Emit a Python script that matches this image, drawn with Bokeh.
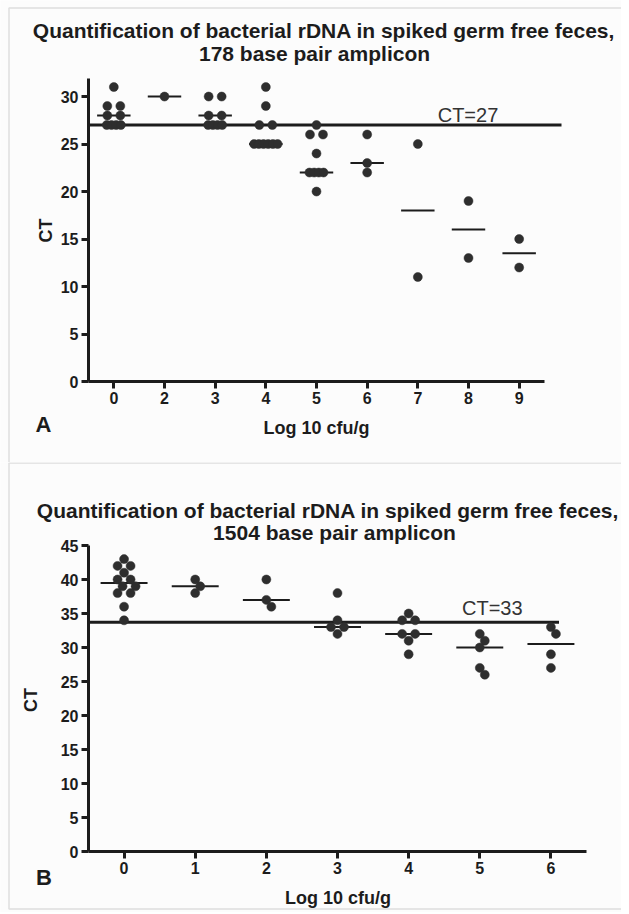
import numpy as np
from bokeh.plotting import figure
from bokeh.models import FixedTicker, Label, BoxAnnotation, Range1d
from bokeh.layouts import column
from bokeh.embed import file_html
from bokeh.resources import INLINE

# ---------------- Panel A data ----------------
a_title = ["Quantification of bacterial rDNA in spiked germ free feces,",
           "178 base pair amplicon"]
a_categories = ["0", "2", "3", "4", "5", "6", "7", "8", "9"]
a_point_group = ["0", "0", "0", "0", "0", "0", "0", "0", "0",
                 "2",
                 "3", "3", "3", "3", "3", "3", "3", "3",
                 "4", "4", "4", "4", "4", "4", "4", "4", "4", "4",
                 "5", "5", "5", "5", "5", "5", "5", "5", "5",
                 "6", "6", "6",
                 "7", "7",
                 "8", "8",
                 "9", "9"]
a_point_ct = [31, 29, 29, 28, 28, 27, 27, 27, 27,
              30,
              30, 30, 28, 28, 27, 27, 27, 27,
              31, 29, 27, 27, 25, 25, 25, 25, 25, 25,
              27, 26, 26, 24, 22, 22, 22, 22, 20,
              26, 23, 22,
              25, 11,
              19, 13,
              15, 12]
a_medians = [28, 30, 28, 25, 22, 23, 18, 16, 13.5]
a_threshold = 27
a_threshold_text = "CT=27"
a_y_ticks = [0, 5, 10, 15, 20, 25, 30]

# ---------------- Panel B data ----------------
b_title = ["Quantification of bacterial rDNA in spiked germ free feces,",
           "1504 base pair amplicon"]
b_categories = ["0", "1", "2", "3", "4", "5", "6"]
b_point_group = ["0", "0", "0", "0", "0", "0", "0", "0", "0", "0", "0", "0",
                 "1", "1", "1",
                 "2", "2", "2",
                 "3", "3", "3", "3", "3",
                 "4", "4", "4", "4", "4", "4", "4",
                 "5", "5", "5", "5", "5",
                 "6", "6", "6", "6"]
b_point_ct = [43, 42, 42, 41, 40, 40, 39, 39, 38, 38, 36, 34,
              40, 39, 38,
              40, 37, 36,
              38, 34, 33, 33, 32,
              35, 34, 34, 32, 32, 31, 29,
              32, 31, 30, 27, 26,
              33, 32, 29, 27]
b_medians = [39.5, 39, 37, 33, 32, 30, 30.5]
b_threshold = 33.7
b_threshold_text = "CT=33"
b_y_ticks = [0, 5, 10, 15, 20, 25, 30, 35, 40, 45]

x_axis_title = "Log 10 cfu/g"
y_axis_title = "CT"

FONT = "Liberation Sans"
INK = "#1c1c1c"
DOT = "#2e2e2e"
BG = "#fcfcfc"
FRAME = "#9c9c9c"
W = 621


def swarm_x(groups, cts, cats, px_x, px_y, dot_px=8.0):
    """Deterministic beeswarm: same-value rows centred, rows shifted to avoid overlap."""
    groups = np.asarray(groups)
    vals = np.asarray(cts, dtype=float)
    xs = np.zeros(len(vals))
    cand = [0]
    for k in range(1, 80):
        cand += [k, -k]
    for ci, c in enumerate(cats):
        idx = np.where(groups == c)[0]
        placed = []
        for v in sorted(set(vals[idx]), reverse=True):
            row = idx[vals[idx] == v]
            n = len(row)
            if n > 1:
                span = max(13.0, 4.7 * (n - 1))
                base = np.linspace(-span / 2, span / 2, n)
            else:
                base = np.zeros(1)
            yp = v * px_y
            s = 0
            for s in cand:
                ok = all(np.hypot(b - qx, yp - qy) >= dot_px - 1e-6
                         for b in base + s for (qx, qy) in placed)
                if ok:
                    break
            for r, b in zip(row, base + s):
                xs[r] = ci + b / px_x
                placed.append((b, yp))
    return xs


def make_panel(cats, groups, cts, medians, threshold, thr_text, y_ticks, title, letter,
               H, fig_top, axis_left, axis_right, y0_px, y_top_px, y_top, line_end_px,
               border_bottom, pos):
    """Geometry is given in page pixels; the frame covers the whole canvas."""
    n = len(cats)
    px_x = (axis_right - axis_left) / n
    px_y = (y0_px - y_top_px) / y_top
    x_start = -0.5 - axis_left / px_x
    x_end = x_start + W / px_x
    y0_c = y0_px - fig_top
    y_start = -(H - y0_c) / px_y
    y_end = y_start + H / px_y

    p = figure(width=W, height=H, output_backend="svg", toolbar_location=None,
               x_range=Range1d(x_start, x_end), y_range=Range1d(y_start, y_end),
               min_border=0)
    p.title.visible = False
    p.grid.visible = False
    p.outline_line_color = None
    p.background_fill_color = BG
    p.border_fill_color = BG

    p.xaxis.fixed_location = 0
    p.yaxis.fixed_location = -0.5
    for ax in (p.xaxis[0], p.yaxis[0]):
        ax.axis_line_width = 3
        ax.axis_line_color = INK
        ax.major_tick_line_width = 3
        ax.major_tick_line_color = INK
        ax.major_tick_out = 7
        ax.major_tick_in = 0
        ax.minor_tick_line_color = None
        ax.major_label_text_font = FONT
        ax.major_label_text_font_size = "16px"
        ax.major_label_text_font_style = "bold"
        ax.major_label_text_color = INK
        ax.major_label_standoff = 3

    p.xaxis.ticker = FixedTicker(ticks=list(range(n)))
    p.xaxis.major_label_overrides = {i: c for i, c in enumerate(cats)}
    p.xaxis.bounds = (-0.5, n - 0.5)
    p.yaxis.ticker = FixedTicker(ticks=y_ticks)
    p.yaxis.bounds = (0, y_top)

    # threshold line, from the y axis to its end
    p.segment(x0=[-0.5], y0=[threshold], x1=[x_start + line_end_px / px_x],
              y1=[threshold], line_width=3, line_color=INK)

    # medians
    mx = np.arange(n)
    p.segment(x0=mx - 0.33, y0=medians, x1=mx + 0.33, y1=medians,
              line_width=2, line_color=INK)

    # points
    xs = swarm_x(groups, cts, cats, px_x, px_y)
    p.scatter(x=xs, y=cts, size=9, fill_color=DOT, line_color=DOT, line_width=0.5)

    def lab(text, key, size, bold=True, angle=0.0, color=INK):
        px, py = pos[key]
        p.add_layout(Label(x=px, y=H - (py - fig_top), x_units="screen", y_units="screen",
                           text=text, text_font=FONT, text_font_size=size,
                           text_font_style="bold" if bold else "normal",
                           text_color=color, text_align="center",
                           text_baseline="middle", angle=angle))

    lab(title[0], "t1", "21px")
    lab(title[1], "t2", "21px")
    lab(thr_text, "ct", "20px", bold=False, color="#333333")
    lab(y_axis_title, "yl", "18px", angle=np.pi / 2)
    lab(x_axis_title, "xl", "18px")
    lab(letter, "letter", "22px")

    # panel frame (left, top and optionally bottom)
    top_sy = H - 0.5 if fig_top > 0 else H - 7.5
    bot_sy = (H - (border_bottom - fig_top)) if border_bottom else -50
    p.add_layout(BoxAnnotation(left=8.5, right=W + 100, top=top_sy, bottom=bot_sy,
                               left_units="screen", right_units="screen",
                               top_units="screen", bottom_units="screen",
                               fill_alpha=0, line_color=FRAME, line_width=1.5))
    return p


pA = make_panel(a_categories, a_point_group, a_point_ct, a_medians, a_threshold,
                a_threshold_text, a_y_ticks, a_title, "A",
                H=462, fig_top=0, axis_left=88, axis_right=544, y0_px=381,
                y_top_px=78, y_top=31.9, line_end_px=561, border_bottom=None,
                pos={"t1": (323.5, 30), "t2": (314, 53), "ct": (467.5, 114.3),
                     "yl": (45.6, 230), "xl": (316, 427.3), "letter": (43, 424)})

pB = make_panel(b_categories, b_point_group, b_point_ct, b_medians, b_threshold,
                b_threshold_text, b_y_ticks, b_title, "B",
                H=450, fig_top=462, axis_left=88, axis_right=586, y0_px=851,
                y_top_px=545, y_top=45, line_end_px=558.5, border_bottom=908.5,
                pos={"t1": (327.5, 510), "t2": (334, 532), "ct": (491.8, 607.7),
                     "yl": (30, 699.5), "xl": (337.5, 897.3), "letter": (43.5, 876.7)})

layout = column(pA, pB, spacing=0)
open("out.html", "w").write(file_html(layout, INLINE))
